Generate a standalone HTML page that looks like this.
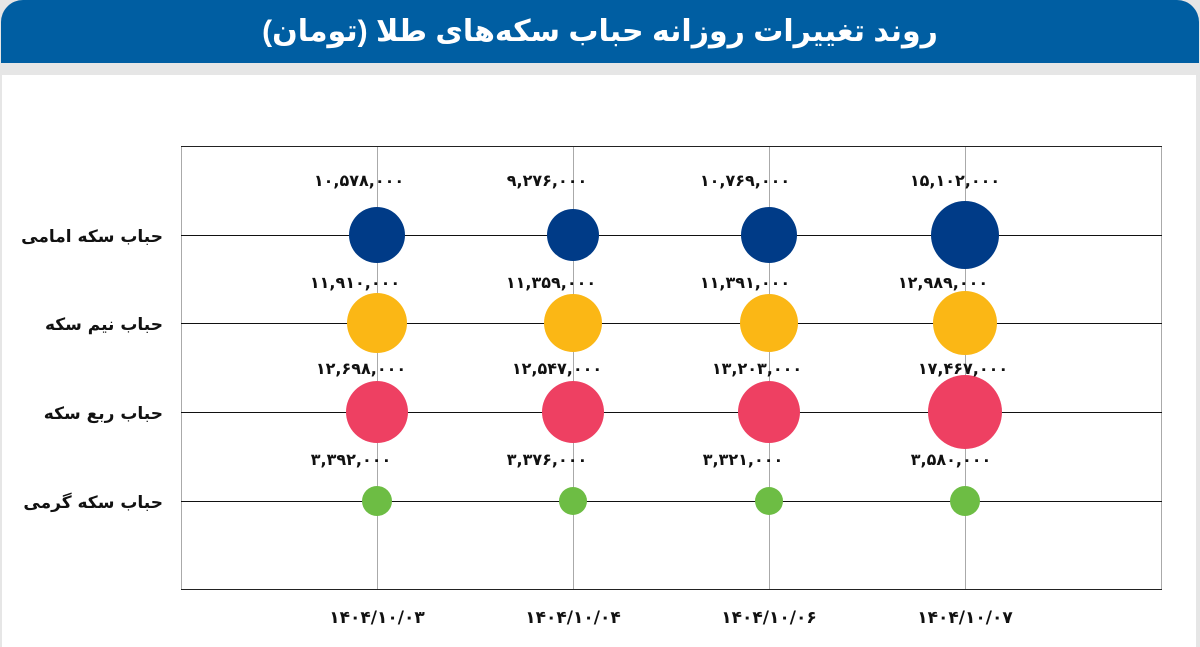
<!DOCTYPE html>
<html><head><meta charset="utf-8"><style>
body{margin:0;width:1200px;height:647px;background:#e6e6e6;overflow:hidden;font-family:"Liberation Sans","Noto Sans CJK SC","DejaVu Sans",sans-serif}
.hdr{position:absolute;left:1px;top:0;width:1198px;height:63px;background:#005ea2;border-radius:22px 22px 0 0;color:#fff;text-align:center;font-weight:bold;font-size:30px;line-height:63px;direction:rtl}
.panel{position:absolute;left:2px;top:75px;width:1194px;height:572px;background:#fff}
svg{position:absolute;left:0;top:0}
</style></head><body>
<div class="hdr">روند تغییرات روزانه حباب سکه‌های طلا (تومان)</div>
<div class="panel"></div>
<svg width="1200" height="647" font-family="DejaVu Sans, sans-serif" font-weight="bold">
<g stroke="#aaa" stroke-width="1">
<line x1="181.5" y1="146" x2="181.5" y2="590"/><line x1="377.5" y1="146" x2="377.5" y2="590"/><line x1="573.5" y1="146" x2="573.5" y2="590"/><line x1="769.5" y1="146" x2="769.5" y2="590"/><line x1="965.5" y1="146" x2="965.5" y2="590"/><line x1="1161.5" y1="146" x2="1161.5" y2="590"/>
</g>
<line x1="181" y1="146.5" x2="1162" y2="146.5" stroke="#222"/>
<line x1="181" y1="589.5" x2="1162" y2="589.5" stroke="#222"/>
<g stroke="#111"><line x1="181" y1="235.5" x2="1162" y2="235.5"/><line x1="181" y1="323.5" x2="1162" y2="323.5"/><line x1="181" y1="412.5" x2="1162" y2="412.5"/><line x1="181" y1="501.5" x2="1162" y2="501.5"/></g>
<g fill="#003b87"><circle cx="377" cy="235" r="28"/><circle cx="573" cy="235" r="26"/><circle cx="769" cy="235" r="28"/><circle cx="965" cy="235" r="34"/></g>
<g fill="#fbb715"><circle cx="377" cy="323" r="30"/><circle cx="573" cy="323" r="29"/><circle cx="769" cy="323" r="29"/><circle cx="965" cy="323" r="32"/></g>
<g fill="#ee4062"><circle cx="377" cy="412" r="31"/><circle cx="573" cy="412" r="31"/><circle cx="769" cy="412" r="31"/><circle cx="965" cy="412" r="37"/></g>
<g fill="#6dbd44"><circle cx="377" cy="501" r="15"/><circle cx="573" cy="501" r="14"/><circle cx="769" cy="501" r="14"/><circle cx="965" cy="501" r="15"/></g>
<g font-size="16" fill="#111" text-anchor="middle">
<text x="359" y="186">۱۰,۵۷۸,۰۰۰</text><text x="547" y="186">۹,۲۷۶,۰۰۰</text><text x="745" y="186">۱۰,۷۶۹,۰۰۰</text><text x="955" y="186">۱۵,۱۰۲,۰۰۰</text>
<text x="355" y="288">۱۱,۹۱۰,۰۰۰</text><text x="551" y="288">۱۱,۳۵۹,۰۰۰</text><text x="745" y="288">۱۱,۳۹۱,۰۰۰</text><text x="943" y="288">۱۲,۹۸۹,۰۰۰</text>
<text x="361" y="374">۱۲,۶۹۸,۰۰۰</text><text x="557" y="374">۱۲,۵۴۷,۰۰۰</text><text x="757" y="374">۱۳,۲۰۳,۰۰۰</text><text x="963" y="374">۱۷,۴۶۷,۰۰۰</text>
<text x="351" y="465">۳,۳۹۲,۰۰۰</text><text x="547" y="465">۳,۳۷۶,۰۰۰</text><text x="743" y="465">۳,۳۲۱,۰۰۰</text><text x="951" y="465">۳,۵۸۰,۰۰۰</text>
<text x="377" y="623" font-size="17">۱۴۰۴/۱۰/۰۳</text><text x="573" y="623" font-size="17">۱۴۰۴/۱۰/۰۴</text><text x="769" y="623" font-size="17">۱۴۰۴/۱۰/۰۶</text><text x="965" y="623" font-size="17">۱۴۰۴/۱۰/۰۷</text>
</g>
<g font-size="17" fill="#111" text-anchor="end" direction="rtl">
<text x="163" y="242" text-anchor="start">حباب سکه امامی</text>
<text x="163" y="330" text-anchor="start">حباب نیم سکه</text>
<text x="163" y="419" text-anchor="start">حباب ربع سکه</text>
<text x="163" y="508" text-anchor="start">حباب سکه گرمی</text>
</g>
</svg>
</body></html>
